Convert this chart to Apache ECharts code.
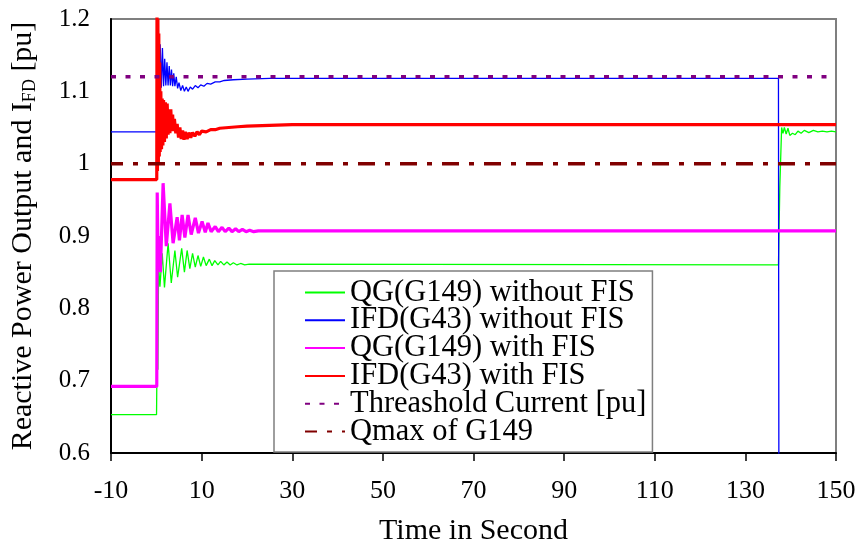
<!DOCTYPE html>
<html>
<head>
<meta charset="utf-8">
<script src="https://cdn.jsdelivr.net/npm/echarts@6/dist/echarts.min.js"></script>
<style>
html,body{margin:0;padding:0;background:#fff;}
#chart{width:862px;height:546px;}
</style>
</head>
<body>
<div id="chart"></div>
<script>
// ---- Data (time in s, value in pu) ----
var seriesNames = [
  'QG(G149) without FIS',
  'IFD(G43) without FIS',
  'QG(G149) with FIS',
  'IFD(G43) with FIS',
  'Threashold Current [pu]',
  'Qmax of G149'
];
var xTickLabels = ['-10','10','30','50','70','90','110','130','150'];
var yTickLabels = ['0.6','0.7','0.8','0.9','1','1.1','1.2'];

var qgWithoutFis = [
  [-10,0.653],[0.05,0.653],[0.1,0.69],[0.2,0.76],[0.35,0.715],[0.5,0.86],[0.8,0.83],
  [1.3,0.876],[1.8,0.829],[2.6,0.89],[3.3,0.835],[4.1,0.88],[4.7,0.843],[5.6,0.883],
  [6.2,0.85],[6.8,0.88],[7.4,0.855],[8.0,0.876],[8.6,0.857],[9.2,0.873],[9.8,0.858],
  [10.4,0.871],[11.0,0.859],[11.7,0.868],[12.3,0.859],[12.9,0.866],[13.6,0.86],
  [14.2,0.865],[14.9,0.86],[15.6,0.864],[16.3,0.86],[17,0.863],[17.8,0.86],[18.6,0.862],
  [19.5,0.86],[20.5,0.861],[137.3,0.86],[137.6,0.968],[138.0,1.05],[138.3,1.042],
  [138.6,1.05],[139.0,1.041],[139.4,1.049],[139.8,1.039],[140.4,1.042],[141.0,1.04],
  [141.6,1.045],[142.3,1.042],[143,1.046],[144,1.043],[145,1.046],[146,1.044],
  [147,1.045],[148,1.044],[149,1.045],[150,1.044]
];
var ifdWithoutFis = [
  [-10,1.044],[0.3,1.044],[0.4,1.182],[0.6,1.10],[0.85,1.165],[1.1,1.105],[1.35,1.16],
  [1.6,1.107],[1.85,1.145],[2.1,1.108],[2.35,1.14],[2.6,1.108],[2.85,1.135],[3.1,1.108],
  [3.35,1.13],[3.6,1.107],[3.85,1.125],[4.1,1.107],[4.4,1.12],[4.7,1.104],[5.0,1.112],
  [5.4,1.101],[5.8,1.108],[6.2,1.1],[6.6,1.106],[7.0,1.1],[7.5,1.106],[8.0,1.103],
  [8.6,1.108],[9.2,1.105],[9.8,1.109],[10.5,1.107],[11.2,1.111],[12,1.110],[13,1.113],
  [14,1.113],[15,1.115],[17,1.116],[20,1.117],[25,1.118],[137.3,1.118],[137.4,0.55]
];
var qgWithFis = [
  [-10,0.692],[0.1,0.692],[0.2,0.96],[0.4,0.86],[0.65,0.9],[0.9,0.85],[1.5,0.973],
  [2.2,0.886],[3.0,0.945],[3.7,0.89],[4.6,0.926],[5.1,0.894],[5.7,0.929],[6.3,0.898],
  [7.0,0.929],[7.7,0.902],[8.6,0.925],[9.3,0.904],[10.1,0.92],[10.8,0.905],[11.4,0.918],
  [12.1,0.906],[13,0.913],[13.7,0.906],[14.5,0.912],[15.2,0.906],[16,0.911],[16.7,0.906],
  [17.5,0.91],[18.2,0.906],[19,0.909],[19.8,0.906],[20.6,0.908],[21.5,0.906],
  [22.5,0.907],[150,0.907]
];
var ifdWithFis = [
  [-10,0.978],[0.1,0.978],[0.15,1.22],[0.25,0.99],[0.35,1.2],[0.45,1.0],[0.55,1.18],
  [0.65,1.01],[0.75,1.14],[0.85,1.016],[1.0,1.10],[1.15,1.02],[1.3,1.09],[1.45,1.025],
  [1.6,1.088],[1.8,1.03],[2.0,1.085],[2.2,1.035],[2.4,1.083],[2.6,1.04],[2.8,1.075],
  [3.0,1.042],[3.2,1.075],[3.4,1.045],[3.6,1.068],[3.8,1.045],[4.0,1.062],[4.3,1.042],
  [4.6,1.055],[4.9,1.036],[5.2,1.05],[5.5,1.034],[5.8,1.046],[6.1,1.033],[6.4,1.044],
  [6.8,1.034],[7.2,1.043],[7.6,1.036],[8.0,1.043],[8.5,1.038],[9.0,1.044],[9.5,1.040],
  [10,1.045],[11,1.044],[12,1.047],[13,1.047],[14,1.049],[16,1.05],[18,1.051],
  [20,1.052],[25,1.053],[30,1.054],[150,1.054]
];
var thresholdCurrent = [[-10,1.12],[150,1.12]];
var qmaxG149 = [[-10,1.0],[150,1.0]];

// ---- Chart ----
var serif = "'Liberation Serif','Times New Roman',serif";
var chart = echarts.init(document.getElementById('chart'), null, {renderer:'canvas'});

function lineSeries(name, data, color, width, dash, dashOffset) {
  var ls = {color: color, width: width, type: dash || 'solid'};
  if (dashOffset) ls.dashOffset = dashOffset;
  return {
    name: name, type: 'line', data: data, showSymbol: false, symbol: 'none',
    animation: false, lineStyle: ls, itemStyle: {color: color}, clip: true,
    emphasis: {disabled: true}
  };
}

var option = {
  backgroundColor: '#ffffff',
  animation: false,
  grid: {left: 111, right: 26, top: 19, bottom: 93, show: true,
         outerBoundsMode: 'none', containLabel: false,
         borderColor: '#7f7f7f', borderWidth: 2, backgroundColor: 'transparent'},
  legend: {
    orient: 'vertical', left: 274, top: 271,
    backgroundColor: '#ffffff', borderColor: '#7f7f7f', borderWidth: 1.5,
    padding: [6, 6, 5, 30], itemGap: -3.2, itemWidth: 40, itemHeight: 14,
    itemStyle: {opacity: 0, borderWidth: 0},
    textStyle: {fontFamily: serif, fontSize: 30.5, color: '#000'},
    data: seriesNames
  },
  xAxis: {
    type: 'value', min: -10, max: 150, interval: 20,
    name: 'Time in Second', nameLocation: 'middle', nameGap: 63,
    nameTextStyle: {fontFamily: serif, fontSize: 30, color: '#000'},
    axisLine: {show: true, onZero: false, lineStyle: {color: '#000', width: 2}},
    axisTick: {show: true, inside: false, length: 8, lineStyle: {color: '#000', width: 1.5}},
    axisLabel: {fontFamily: serif, fontSize: 26, color: '#000', margin: 25,
      formatter: function (v) { return String(v); }},
    splitLine: {show: false}
  },
  yAxis: {
    type: 'value', min: 0.6, max: 1.2, interval: 0.1,
    name: 'Reactive Power Output and I{sub|FD} [pu]', nameLocation: 'middle', nameGap: 72,
    nameTextStyle: {fontFamily: serif, fontSize: 30, color: '#000',
      rich: {sub: {fontFamily: serif, fontSize: 18, color: '#000', padding: [14, 0, 0, 0]}}},
    axisLine: {show: true, onZero: false, lineStyle: {color: '#000', width: 2}},
    axisTick: {show: false},
    axisLabel: {fontFamily: serif, fontSize: 25, color: '#000', margin: 21,
      formatter: function (v) { return String(Math.round(v * 10) / 10); }},
    splitLine: {show: false}
  },
  series: [
    lineSeries(seriesNames[0], qgWithoutFis, '#00ff00', 1.3),
    lineSeries(seriesNames[1], ifdWithoutFis, '#0000ff', 1.3),
    lineSeries(seriesNames[2], qgWithFis, '#ff00ff', 3.2),
    lineSeries(seriesNames[3], ifdWithFis, '#ff0000', 3.2),
    lineSeries(seriesNames[4], thresholdCurrent, '#800080', 3.5, [5, 9.5]),
    lineSeries(seriesNames[5], qmaxG149, '#800000', 3.5, [17, 10, 5, 10], 5)
  ]
};
chart.setOption(option);
</script>
</body>
</html>
